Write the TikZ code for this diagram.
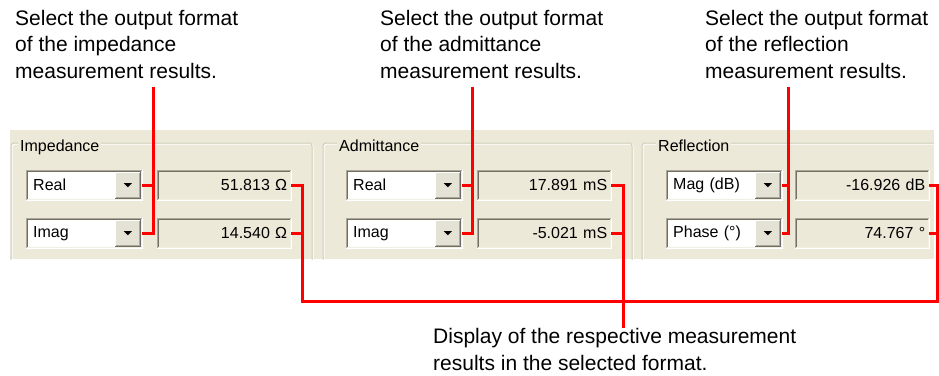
\documentclass[tikz,border=0pt]{standalone}
\usepackage{fontspec}
\setmainfont{Liberation Sans}
\definecolor{panel}{HTML}{ECE9D8}
\definecolor{grpline}{HTML}{D0D0BF}
\definecolor{bdA}{HTML}{ACA899}
\definecolor{bdB}{HTML}{716F64}
\definecolor{bdC}{HTML}{F1EFE2}
\definecolor{btnfill}{HTML}{E4E1D5}
\definecolor{callred}{HTML}{FF0000}
\newcommand\sunkenframe[1]{%
  \draw[line width=1pt,bdA] (#1.south west) -- (#1.north west) -- (#1.north east);
  \draw[line width=1pt,bdB] ([shift={(1,-1)}]#1.south west) -- ([shift={(1,1)}]#1.north west) -- ([shift={(-1,1)}]#1.north east);
  \draw[line width=1pt,white] (#1.south west) -- (#1.south east) -- (#1.north east);
  \draw[line width=1pt,bdC] ([shift={(1,-1)}]#1.south west) -- ([shift={(-1,-1)}]#1.south east) -- ([shift={(-1,1)}]#1.north east);
}
\newcommand\dropbtn[2]{%
  \node[btn] (#2) at ([shift={(-14.5,0)}]#1.east) {};
  \draw[line width=1pt,white] (#2.south west) -- (#2.north west) -- (#2.north east);
  \draw[line width=1pt,bdB] (#2.south west) -- (#2.south east) -- (#2.north east);
  \draw[line width=1pt,bdA] ([shift={(1,-1)}]#2.south west) -- ([shift={(-1,-1)}]#2.south east) -- ([shift={(-1,1)}]#2.north east);
  \fill[black] ([shift={(-4,-2)}]#2.center) -- ([shift={(4,-2)}]#2.center) -- ([shift={(0,2)}]#2.center) -- cycle;
}
\tikzset{
  x=1pt, y=-1pt,
  lab/.style={anchor=north west, inner sep=0pt, align=left, font=\fontsize{21}{26.6}\selectfont},
  gui/.style={font=\fontsize{16}{19}\selectfont},
  combo/.style={gui, anchor=north west, fill=white, minimum width=116pt, minimum height=30pt,
    inner xsep=7pt, inner ysep=0pt, text width=102pt, align=left},
  valbox/.style={gui, anchor=north west, fill=panel, minimum width=134pt, minimum height=30pt,
    inner xsep=4pt, inner ysep=0pt, text width=126pt, align=right},
  btn/.style={fill=btnfill, minimum width=25pt, minimum height=26pt, inner sep=0pt},
  grptitle/.style={gui, anchor=base west, fill=panel, inner xsep=2pt, inner ysep=1pt},
  grp/.style={draw=grpline, line width=1pt, rounded corners=3pt},
  grphl/.style={draw=white, line width=1pt, rounded corners=3pt},
  callout/.style={draw=callred, line width=3pt, line join=miter}
}
\begin{document}
\begin{tikzpicture}
\useasboundingbox (0,0) rectangle (939,375);
% panel
\fill[panel] (10,130) rectangle (934,259);
% group frames
\begin{scope}
\clip (10,130) rectangle (934,259);
\draw[grphl] (12,262) -- (12,144) -- (313,144) -- (313,262);
\draw[grp] (11,262) -- (11,143) -- (312,143) -- (312,262);
\draw[grphl] (324,262) -- (324,144) -- (633,144) -- (633,262);
\draw[grp] (323,262) -- (323,143) -- (632,143) -- (632,262);
\draw[grphl] (643,262) -- (643,144) -- (950,144) -- (950,262);
\draw[grp] (642,262) -- (642,143) -- (949,143) -- (949,262);
\end{scope}
\node[grptitle] (g1) at (18,151) {Impedance};
\node[grptitle] (g2) at (337,151) {Admittance};
\node[grptitle] (g3) at (656,151) {Reflection};
% impedance controls
\node[combo] (c1a) at (26,170) {Real};
\node[combo] (c1b) at (26,218) {Imag};
\node[valbox] (v1a) at (157,170) {51.813 Ω};
\node[valbox] (v1b) at (157,218) {14.540 Ω};
% admittance controls
\node[combo] (c2a) at (346,170) {Real};
\node[combo] (c2b) at (346,218) {Imag};
\node[valbox] (v2a) at (477,170) {17.891 mS};
\node[valbox] (v2b) at (477,218) {-5.021 mS};
% reflection controls
\node[combo] (c3a) at (666,170) {Mag (dB)};
\node[combo] (c3b) at (666,218) {Phase (°)};
\node[valbox] (v3a) at (795,170) {-16.926 dB};
\node[valbox] (v3b) at (795,218) {74.767 °};
\foreach \n in {c1a,c1b,v1a,v1b,c2a,c2b,v2a,v2b,c3a,c3b,v3a,v3b} {\sunkenframe{\n}}
\dropbtn{c1a}{b1a}\dropbtn{c1b}{b1b}
\dropbtn{c2a}{b2a}\dropbtn{c2b}{b2b}
\dropbtn{c3a}{b3a}\dropbtn{c3b}{b3b}
% labels
\node[lab] (t1) at (15,9.7) {Select the output format\\of the impedance\\measurement results.};
\node[lab] (t2) at (380,9.7) {Select the output format\\of the admittance\\measurement results.};
\node[lab] (t3) at (705,9.7) {Select the output format\\of the reflection\\measurement results.};
\node[lab] (t4) at (433,328) {Display of the respective measurement\\results in the selected format.};
% callout coordinates
\coordinate (s1) at (153,87);
\coordinate (s2) at (472,87);
\coordinate (s3) at (788,87);
\coordinate (busL) at (302,301);
\coordinate (busR) at (937,301);
\coordinate (dtop) at (623,328);
% select callouts
\draw[callout] (s1) -- (s1 |- c1b.east) -- (c1b.east);
\draw[callout] (c1a.east) -- (c1a.east -| s1);
\draw[callout] (s2) -- (s2 |- c2b.east) -- (c2b.east);
\draw[callout] (c2a.east) -- (c2a.east -| s2);
\draw[callout] (s3) -- (s3 |- c3b.east) -- (c3b.east);
\draw[callout] (c3a.east) -- (c3a.east -| s3);
% display callouts
\draw[callout] (v1a.east) -| (busL) -- (busR) |- (v3a.east);
\draw[callout] (v1b.east) -- (v1b.east -| busL);
\draw[callout] (v3b.east) -- (v3b.east -| busR);
\draw[callout] (v2a.east) -| (dtop);
\draw[callout] (v2b.east) -- (v2b.east -| dtop);
\end{tikzpicture}
\end{document}
